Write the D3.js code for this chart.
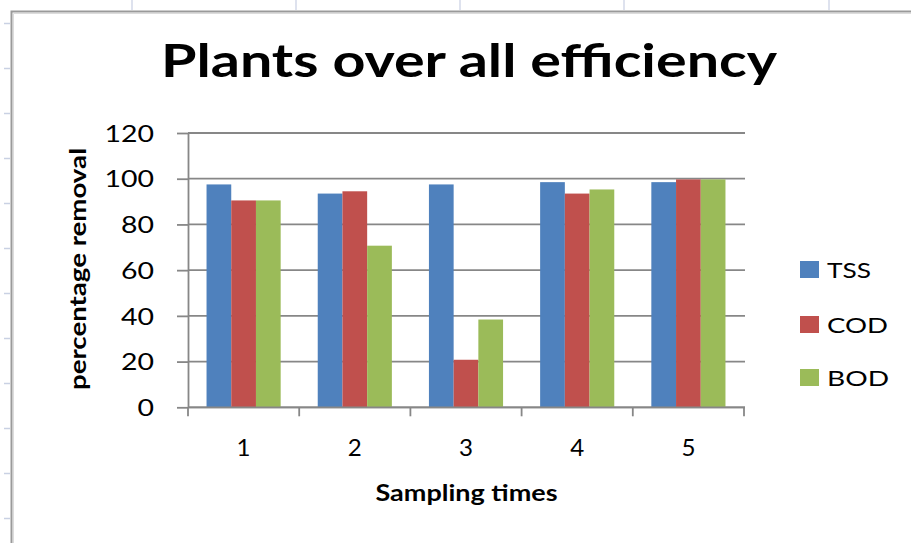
<!DOCTYPE html>
<html>
<head>
<meta charset="utf-8">
<script src="https://cdn.jsdelivr.net/npm/d3@7/dist/d3.min.js"></script>
<style>
  html, body { margin: 0; padding: 0; background: #ffffff; }
  svg { display: block; }
  text { font-family: Lato, "Open Sans", "Noto Sans", sans-serif; fill: #000; }
</style>
</head>
<body>
<svg id="chart" width="911" height="543"></svg>
<script>
// Sampling times on the x axis
const categories = ["1", "2", "3", "4", "5"];
// Removal efficiency (%) per parameter
const seriesNames = ["TSS", "COD", "BOD"];
const tssValues = [97.5, 93.5, 97.5, 98.5, 98.5];
const codValues = [90.5, 94.5, 20.8, 93.5, 99.7];
const bodValues = [90.5, 70.7, 38.4, 95.3, 99.7];
const seriesColors = ["#4F81BD", "#C0504D", "#9BBB59"];
const yTicks = [0, 20, 40, 60, 80, 100, 120];

const chartTitle = "Plants over all efficiency";
const xTitle = "Sampling times";
const yTitle = "percentage removal";

const seriesValues = [tssValues, codValues, bodValues];
const rows = categories.map((c, i) => ({
  cat: c,
  vals: seriesNames.map((s, j) => ({ key: s, value: seriesValues[j][i], color: seriesColors[j] }))
}));

const svg = d3.select("#chart");
const W = 911, H = 543;

// Worksheet backdrop: column separators along the top, row marks at the left
const colLines = [132, 296, 460, 624, 829];
svg.append("g").selectAll("line").data(colLines).join("line")
  .attr("x1", d => d).attr("x2", d => d).attr("y1", 0).attr("y2", 10)
  .attr("stroke", "#d3d9e8").attr("stroke-width", 1.5);
const rowMarks = d3.range(12).map(i => 23.5 + i * 45);
svg.append("g").selectAll("line").data(rowMarks).join("line")
  .attr("x1", 4).attr("x2", 10).attr("y1", d => d).attr("y2", d => d)
  .attr("stroke", "#c9d1e3").attr("stroke-width", 1.5);

// Chart frame
svg.append("path")
  .attr("d", `M11.5,${H} V11.5 H${W}`)
  .attr("fill", "none").attr("stroke", "#9a9a9a").attr("stroke-width", 2);
svg.append("path")
  .attr("d", `M13.5,${H} V13.5 H${W}`)
  .attr("fill", "none").attr("stroke", "#dcdcdc").attr("stroke-width", 1);

// Plot area
const plot = { left: 188, right: 744, top: 133, bottom: 407.3 };

const x0 = d3.scaleBand().domain(categories).range([plot.left, plot.right]).padding(0);
const bw = x0.bandwidth();
const barW = bw / 4.5;              // 150% gap between clusters
const x1 = d3.scaleBand().domain(seriesNames)
  .range([0.75 * barW, bw - 0.75 * barW]).padding(0);
const y = d3.scaleLinear().domain([0, 120]).range([plot.bottom, plot.top]);

const gridColor = "#878787";

// Horizontal gridlines
svg.append("g").selectAll("line").data(yTicks).join("line")
  .attr("x1", plot.left).attr("x2", plot.right + 1)
  .attr("y1", d => y(d)).attr("y2", d => y(d))
  .attr("stroke", gridColor).attr("stroke-width", 1.8);

// Bars
const groups = svg.append("g").selectAll("g").data(rows).join("g")
  .attr("transform", d => `translate(${x0(d.cat)},0)`);
groups.selectAll("rect").data(d => d.vals).join("rect")
  .attr("x", d => x1(d.key))
  .attr("width", x1.bandwidth())
  .attr("y", d => y(d.value))
  .attr("height", d => y(0) - y(d.value))
  .attr("fill", d => d.color);

// Y axis
const yAxis = svg.append("g")
  .attr("transform", `translate(${plot.left},0)`)
  .call(d3.axisLeft(y).tickValues(yTicks).tickSize(11).tickPadding(23).tickSizeOuter(0));
yAxis.select(".domain").attr("stroke", gridColor).attr("stroke-width", 1.8);
yAxis.selectAll(".tick line").attr("stroke", gridColor).attr("stroke-width", 1.8);
yAxis.selectAll(".tick text")
  .attr("font-size", 23).attr("font-family", "Lato, sans-serif")
  .attr("dy", "0.36em")
  .attr("textLength", d => String(d).length * 16.5)
  .attr("lengthAdjust", "spacingAndGlyphs")
  .attr("fill", "#1a1a1a");

// X axis: labels centred on clusters, tick marks between clusters
const xAxis = svg.append("g")
  .attr("transform", `translate(0,${plot.bottom})`)
  .call(d3.axisBottom(x0).tickSize(0).tickPadding(0).tickSizeOuter(0));
xAxis.select(".domain").remove();
xAxis.selectAll(".tick text")
  .attr("font-size", 23).attr("y", 48.7).attr("dy", 0)
  .attr("textLength", 14).attr("lengthAdjust", "spacingAndGlyphs")
  .attr("fill", "#1a1a1a");
const bounds = categories.map(c => x0(c)).concat([plot.right]);
svg.append("line")
  .attr("x1", plot.left).attr("x2", plot.right + 1)
  .attr("y1", plot.bottom).attr("y2", plot.bottom)
  .attr("stroke", gridColor).attr("stroke-width", 1.8);
svg.append("g").selectAll("line").data(bounds).join("line")
  .attr("x1", d => d).attr("x2", d => d)
  .attr("y1", plot.bottom).attr("y2", plot.bottom + 9)
  .attr("stroke", gridColor).attr("stroke-width", 1.8);

// Title
svg.append("text")
  .attr("x", 469).attr("y", 77)
  .attr("text-anchor", "middle")
  .attr("font-size", 45).attr("font-weight", 700)
  .attr("textLength", 616).attr("lengthAdjust", "spacingAndGlyphs")
  .text(chartTitle);

// Axis titles
svg.append("text")
  .attr("x", 466.5).attr("y", 501)
  .attr("text-anchor", "middle")
  .attr("font-size", 23).attr("font-weight", 700)
  .attr("textLength", 182).attr("lengthAdjust", "spacingAndGlyphs")
  .text(xTitle);

svg.append("text")
  .attr("transform", "translate(86,269) rotate(-90)")
  .attr("text-anchor", "middle")
  .attr("font-size", 22).attr("font-weight", 700)
  .attr("textLength", 242).attr("lengthAdjust", "spacingAndGlyphs")
  .text(yTitle);

// Legend
const legendRows = [
  { key: "TSS", color: seriesColors[0], base: 278, w: 44 },
  { key: "COD", color: seriesColors[1], base: 333, w: 61 },
  { key: "BOD", color: seriesColors[2], base: 386, w: 62 }
];
const legend = svg.append("g").selectAll("g").data(legendRows).join("g");
legend.append("rect")
  .attr("x", 800).attr("y", d => d.base - 17)
  .attr("width", 19).attr("height", 17)
  .attr("fill", d => d.color);
legend.append("text")
  .attr("x", 827).attr("y", d => d.base)
  .attr("font-size", 22)
  .attr("textLength", d => d.w).attr("lengthAdjust", "spacingAndGlyphs")
  .attr("fill", "#1a1a1a")
  .text(d => d.key);
</script>
</body>
</html>
